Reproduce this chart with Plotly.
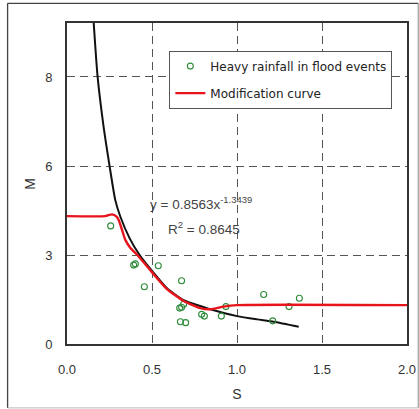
import plotly.graph_objects as go

# Observed data points (S, M)
obs_S = [0.257, 0.392, 0.402, 0.455, 0.537, 0.674, 0.663, 0.674, 0.686, 0.667,
         0.698, 0.792, 0.808, 0.908, 0.935, 1.157, 1.210, 1.306, 1.367]
obs_M = [3.98, 2.66, 2.70, 1.93, 2.64, 2.13, 1.21, 1.24, 1.34, 0.75,
         0.72, 1.00, 0.94, 0.94, 1.26, 1.67, 0.78, 1.26, 1.54]

# Power trendline
fit_S = [0.157, 0.180, 0.214, 0.251, 0.284, 0.314, 0.368, 0.427, 0.504, 0.588,
         0.686, 0.784, 0.843, 1.000, 1.118, 1.216, 1.363]
fit_M = [10.83, 9.01, 7.38, 5.98, 4.85, 4.29, 3.57, 3.00, 2.44, 1.88,
         1.48, 1.28, 1.17, 0.94, 0.83, 0.75, 0.58]

# Modification curve
mod_S = [0.0, 0.225, 0.265, 0.290, 0.304, 0.324, 0.343, 0.373, 0.414, 0.504,
         0.588, 0.686, 0.784, 0.843, 0.921, 1.000, 2.0]
mod_M = [4.31, 4.31, 4.37, 4.30, 4.18, 3.84, 3.51, 3.24, 3.00, 2.39,
         1.85, 1.45, 1.21, 1.17, 1.26, 1.31, 1.31]

x_ticks = [0.0, 0.5, 1.0, 1.5, 2.0]
y_tickvals = [0, 3, 6, 9]
y_ticktext = ["0", "3", "6", "8"]

FONT = "Liberation Sans, Arial, sans-serif"
GRID = "#555555"

fig = go.Figure()
fig.add_trace(go.Scatter(
    x=fit_S, y=fit_M, mode="lines", showlegend=False,
    line=dict(color="#111111", width=2, shape="spline", smoothing=0.6),
))
fig.add_trace(go.Scatter(
    x=obs_S, y=obs_M, mode="markers", name="Heavy rainfall in flood events",
    legendgroup="a",
    marker=dict(symbol="circle-open", size=6, color="#2e8b3a", line=dict(width=1.1, color="#2e8b3a")),
))
fig.add_trace(go.Scatter(
    x=mod_S, y=mod_M, mode="lines", name="Modification curve",
    legendgroup="b",
    line=dict(color="#e8141c", width=2.4, shape="spline", smoothing=0.5),
))

fig.add_annotation(x=0.476, y=4.75, xref="x", yref="y", xanchor="left", yanchor="middle",
                   text="y = 0.8563x<sup>-1.3439</sup>", showarrow=False,
                   font=dict(family=FONT, size=13.5, color="#444444"))
fig.add_annotation(x=0.582, y=3.92, xref="x", yref="y", xanchor="left", yanchor="middle",
                   text="R<sup>2</sup> = 0.8645", showarrow=False,
                   font=dict(family=FONT, size=13.5, color="#444444"))
# y-axis title
fig.add_annotation(x=-0.111, y=0.5, xref="paper", yref="paper", xanchor="center", yanchor="middle",
                   text="M", textangle=-90, showarrow=False,
                   font=dict(family=FONT, size=14, color="#333333"))

# outer frame of the figure
fig.add_shape(type="line", xref="paper", yref="paper", x0=-0.1747, x1=-0.1747, y0=-0.199, y1=1.0613,
              line=dict(color="#444444", width=1.3))
fig.add_shape(type="line", xref="paper", yref="paper", x0=-0.1747, x1=1.033, y0=1.0613, y1=1.0613,
              line=dict(color="#444444", width=1.3))
fig.add_shape(type="line", xref="paper", yref="paper", x0=1.033, x1=1.033, y0=-0.199, y1=1.0613,
              line=dict(color="#888888", width=1))
fig.add_shape(type="line", xref="paper", yref="paper", x0=-0.1747, x1=1.033, y0=-0.199, y1=-0.199,
              line=dict(color="#bbbbbb", width=1))

fig.update_layout(
    width=419, height=409,
    margin=dict(l=67, r=12, t=23, b=65),
    paper_bgcolor="white", plot_bgcolor="white",
    font=dict(family=FONT, size=13, color="#333333"),
    legend=dict(
        x=0.301, y=0.914, xanchor="left", yanchor="top",
        bordercolor="#555555", borderwidth=1, bgcolor="white",
        font=dict(family="DejaVu Sans, sans-serif", size=12, color="#222222"),
        tracegroupgap=8, itemwidth=30,
    ),
    xaxis=dict(
        range=[0, 2.0], tickvals=x_ticks, tickformat=".1f", automargin=False,
        showgrid=True, gridcolor=GRID, griddash="8px,5px", gridwidth=1.2,
        showline=True, linecolor="#333333", linewidth=2, mirror=True,
        zeroline=False, ticks="", ticklabelstandoff=12,
        title=dict(text="S", standoff=14, font=dict(size=14)),
    ),
    yaxis=dict(
        range=[0, 10.82], tickvals=y_tickvals, ticktext=y_ticktext, automargin=False,
        showgrid=True, gridcolor=GRID, griddash="8px,5px", gridwidth=1.2,
        showline=True, linecolor="#333333", linewidth=2, mirror=True,
        zeroline=False, ticks="", ticklabelstandoff=10,
    ),
)

fig.write_html("out.html")
